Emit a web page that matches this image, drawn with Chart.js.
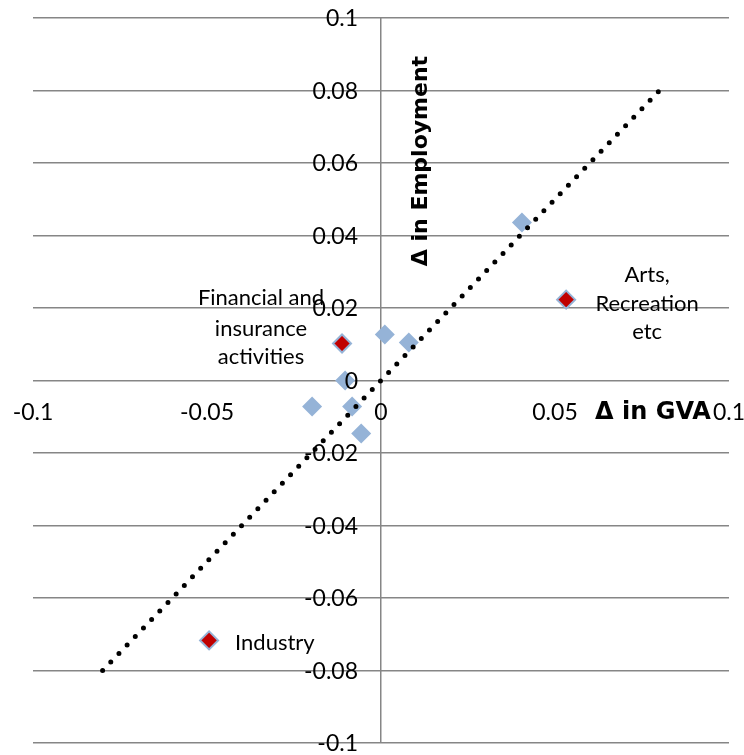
<!DOCTYPE html>
<html><head><meta charset="utf-8">
<script src="https://cdn.jsdelivr.net/npm/chart.js@4"></script>
<style>html,body{margin:0;padding:0;background:#fff}canvas{display:block}</style>
</head><body>
<canvas id="c" width="744" height="755"></canvas>
<script>
// Change in GVA (x) and change in employment (y) per sector
const sectorGVA = [0.0405, 0.0011, 0.0080, -0.0103, -0.0198, -0.0083, -0.0057];
const sectorEmp = [0.0436, 0.0127, 0.0105, 0.0000, -0.0072, -0.0072, -0.0146];

const namedSectors = [["Financial and", "insurance", "activities"], ["Arts,", "Recreation", "etc"], ["Industry"]];
const namedGVA = [-0.0112, 0.0532, -0.0494];
const namedEmp = [0.0102, 0.0223, -0.0717];

const refLineX = [-0.08, 0.08];
const refLineY = [-0.08, 0.08];

const xTickValues = [-0.1, -0.05, 0, 0.05, 0.1];
const xTickLabels = ["-0.1", "-0.05", "0", "0.05", "0.1"];
const yTickValues = [0.1, 0.08, 0.06, 0.04, 0.02, 0, -0.02, -0.04, -0.06, -0.08, -0.1];
const yTickLabels = ["0.1", "0.08", "0.06", "0.04", "0.02", "0", "-0.02", "-0.04", "-0.06", "-0.08", "-0.1"];

const xTitle = "\u0394 in GVA";
const yTitle = "\u0394 in Employment";

const toPts = (xs, ys) => xs.map((v, i) => ({x: v, y: ys[i]}));

// label placement (pixel offsets from the marker)
const labelPlacement = [
  {dx: -81, dys: [-46, -15, 13], align: 'center'},
  {dx: 81, dys: [-25, 4, 32], align: 'center'},
  {dx: 26, dys: [2], align: 'left'}
];

const textPlugin = {
  id: 'texts',
  afterDatasetsDraw(chart) {
    const {ctx, scales: {x, y}} = chart;
    const x0 = x.getPixelForValue(0);
    const y0 = y.getPixelForValue(0);
    ctx.save();
    ctx.fillStyle = '#000';
    ctx.font = '23px Lato';
    ctx.textBaseline = 'middle';
    ctx.textAlign = 'right';
    yTickValues.forEach((v, i) => ctx.fillText(yTickLabels[i], x0 - 23, y.getPixelForValue(v) + 1));
    ctx.textAlign = 'center';
    xTickValues.forEach((v, i) => ctx.fillText(xTickLabels[i], x.getPixelForValue(v), y0 + 32));
    // data labels
    ctx.font = '22px Lato';
    const meta = chart.getDatasetMeta(1);
    meta.data.forEach((el, i) => {
      const p = labelPlacement[i];
      ctx.textAlign = p.align;
      namedSectors[i].forEach((line, j) => ctx.fillText(line, el.x + p.dx, el.y + p.dys[j]));
    });
    // axis titles
    ctx.textBaseline = 'alphabetic';
    ctx.textAlign = 'center';
    ctx.font = 'bold 24px "DejaVu Sans"';
    ctx.fillText(xTitle, 653, 419);
    ctx.font = 'bold 22px "DejaVu Sans"';
    ctx.translate(427, 161);
    ctx.rotate(-Math.PI / 2);
    ctx.fillText(yTitle, 0, 0);
    ctx.restore();
  }
};

new Chart(document.getElementById('c'), {
  type: 'scatter',
  data: {
    datasets: [
      {
        type: 'line',
        data: toPts(refLineX, refLineY),
        borderColor: '#000',
        borderWidth: 5,
        borderDash: [0, 11.8],
        borderCapStyle: 'round',
        pointRadius: 0,
        fill: false,
        order: 0
      },
      {
        data: toPts(namedGVA, namedEmp),
        pointStyle: 'rectRot',
        pointRadius: 9,
        pointBackgroundColor: '#C00000',
        pointBorderColor: '#95B3D7',
        pointBorderWidth: 2,
        order: 1
      },
      {
        data: toPts(sectorGVA, sectorEmp),
        pointStyle: 'rectRot',
        pointRadius: 10,
        pointBackgroundColor: '#95B3D7',
        pointBorderColor: '#95B3D7',
        pointBorderWidth: 0,
        order: 2
      }
    ]
  },
  options: {
    responsive: false,
    animation: false,
    devicePixelRatio: 1,
    layout: {padding: {left: 33, right: 15, top: 18, bottom: 12}},
    plugins: {legend: {display: false}, tooltip: {enabled: false}},
    scales: {
      x: {
        type: 'linear', min: -0.1, max: 0.1,
        ticks: {display: false, stepSize: 0.05},
        border: {display: false},
        grid: {
          drawTicks: false,
          lineWidth: 1.5,
          color: c => (c.tick && Math.abs(c.tick.value) < 1e-9) ? '#868686' : 'rgba(0,0,0,0)'
        }
      },
      y: {
        type: 'linear', min: -0.1, max: 0.1,
        ticks: {display: false, stepSize: 0.02},
        border: {display: false},
        grid: {drawTicks: false, lineWidth: 1.5, color: '#868686'}
      }
    }
  },
  plugins: [textPlugin]
});
</script>
</body></html>
